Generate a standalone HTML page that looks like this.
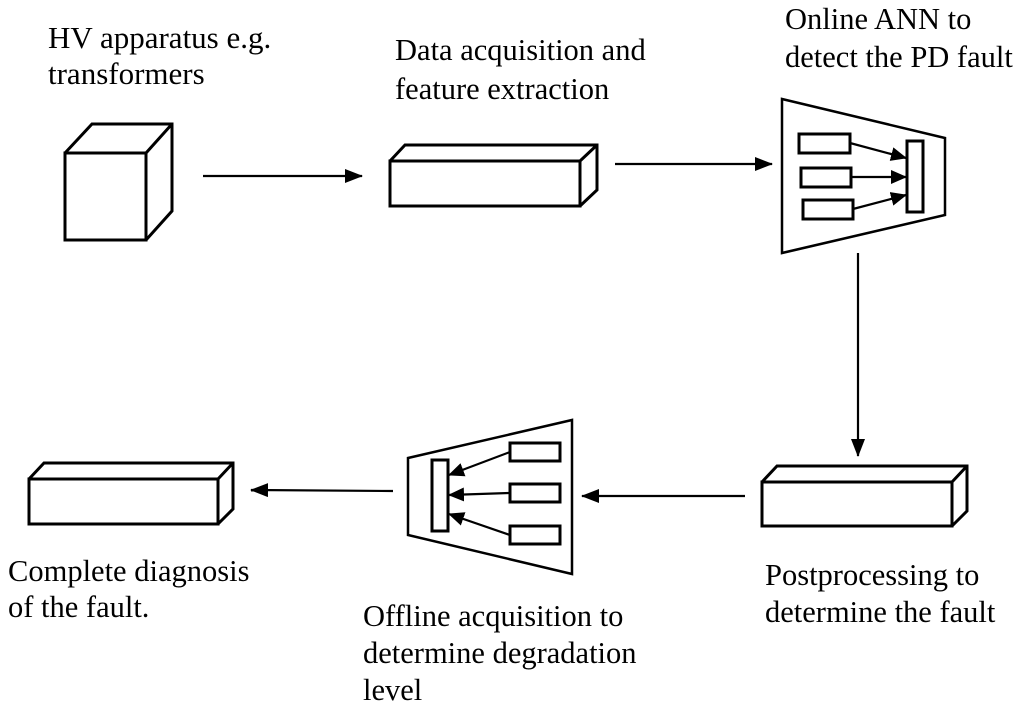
<!DOCTYPE html>
<html><head><style>
body{margin:0;background:#fff;width:1024px;height:710px;overflow:hidden}
svg{position:absolute;left:0;top:0}
text{font-family:"Liberation Serif",serif;font-size:30.5px;fill:#000}
</style></head><body>
<svg width="1024" height="710" viewBox="0 0 1024 710">
<defs>
<marker id="b" markerWidth="18" markerHeight="14" refX="17" refY="7" orient="auto" markerUnits="userSpaceOnUse"><path d="M0,0 L18,7 L0,14z" fill="#000"/></marker>
<marker id="c" markerWidth="16" markerHeight="14" refX="15" refY="7" orient="auto" markerUnits="userSpaceOnUse"><path d="M0,0 L16,7 L0,14z" fill="#000"/></marker>
</defs>
<g fill="none" stroke="#000" stroke-width="3">
<rect x="65" y="153" width="81" height="87"/>
<path d="M65,153 L92,124 L172,124 L172,211 L146,240 M146,153 L172,124"/>
<rect x="390" y="161" width="190" height="45"/>
<path d="M390,161 L405,145 L597,145 L597,190 L580,206 M580,161 L597,145"/>
<path d="M782,99 L945,138 L945,215 L782,253 Z" stroke-width="2.5"/>
<rect x="799" y="134" width="51" height="19"/>
<rect x="801" y="168" width="50" height="19"/>
<rect x="803" y="200" width="50" height="19"/>
<rect x="907" y="141" width="16" height="71"/>
<rect x="762" y="482" width="190" height="44"/>
<path d="M762,482 L777,466 L967,466 L967,511 L952,526 M952,482 L967,466"/>
<path d="M408,458 L572,420 L572,574 L408,535 Z" stroke-width="2.5"/>
<rect x="432" y="460" width="16" height="71"/>
<rect x="510" y="443" width="50" height="18"/>
<rect x="510" y="484" width="50" height="18"/>
<rect x="510" y="526" width="50" height="18"/>
<rect x="29" y="479" width="189" height="45"/>
<path d="M29,479 L44,463 L233,463 L233,509 L218,524 M218,479 L233,463"/>
</g>
<g stroke="#000" stroke-width="2.2" fill="none">
<line x1="203" y1="176" x2="362" y2="176" marker-end="url(#b)"/>
<line x1="615" y1="164" x2="772" y2="164" marker-end="url(#b)"/>
<line x1="858" y1="253" x2="858" y2="456" marker-end="url(#b)"/>
<line x1="745" y1="496" x2="582" y2="496" marker-end="url(#b)"/>
<line x1="393" y1="491" x2="251" y2="490" marker-end="url(#b)"/>
<line x1="850" y1="143" x2="906" y2="158" marker-end="url(#c)"/>
<line x1="851" y1="177" x2="906" y2="177" marker-end="url(#c)"/>
<line x1="853" y1="209" x2="906" y2="195" marker-end="url(#c)"/>
<line x1="510" y1="452" x2="449" y2="475" marker-end="url(#c)"/>
<line x1="510" y1="493" x2="449" y2="495" marker-end="url(#c)"/>
<line x1="510" y1="535" x2="449" y2="514" marker-end="url(#c)"/>
</g>
<text x="48" y="48" style="font-size:31px">HV apparatus e.g.</text>
<text x="48" y="84" style="font-size:31px">transformers</text>
<text x="395" y="60">Data acquisition and</text>
<text x="395" y="99">feature extraction</text>
<text x="785" y="29">Online ANN to</text>
<text x="785" y="67">detect the PD fault</text>
<text x="765" y="585">Postprocessing to</text>
<text x="765" y="622">determine the fault</text>
<text x="8" y="581">Complete diagnosis</text>
<text x="8" y="617">of the fault.</text>
<text x="363" y="626">Offline acquisition to</text>
<text x="363" y="663">determine degradation</text>
<text x="363" y="700">level</text>
</svg>
</body></html>
